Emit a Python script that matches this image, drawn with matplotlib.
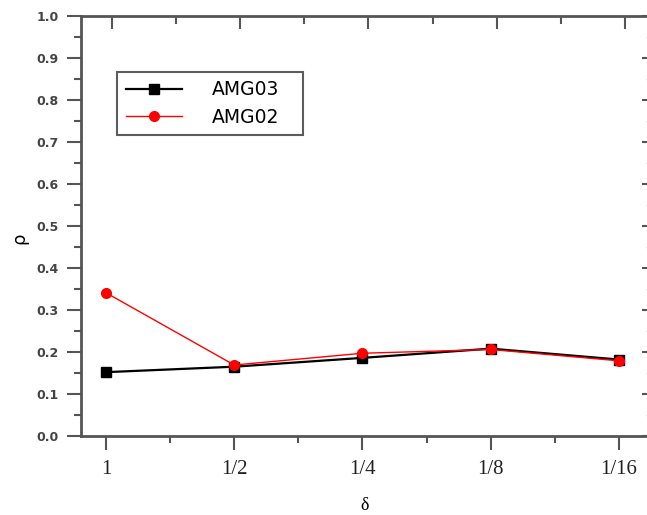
import matplotlib
matplotlib.use("Agg")
import numpy as np
from matplotlib import pyplot as plt
from matplotlib.ticker import MultipleLocator

# values
x_labels = ["1", "1/2", "1/4", "1/8", "1/16"]
amg03 = [0.152, 0.165, 0.186, 0.208, 0.182]
amg02 = [0.341, 0.169, 0.197, 0.206, 0.179]

x = np.arange(len(x_labels))
spine_col = "#555555"

fig = plt.figure(figsize=(6.47, 5.15), dpi=100)
ax = fig.add_axes([0.1252, 0.1534, 0.8780, 0.8156])

ax.plot(x, amg03, color="black", lw=1.6, marker="s", ms=7, label="AMG03", zorder=3)
ax.plot(x, amg02, color="red", lw=1.0, marker="o", ms=7, label="AMG02", zorder=4)

ax.set_xlim(-0.195, 4.235)
ax.set_ylim(0.0, 1.0)
ax.set_xticks(x)
ax.set_xticklabels(x_labels, family="Liberation Serif", fontsize=15, color="#222222")
ax.xaxis.set_minor_locator(MultipleLocator(0.5))
ax.yaxis.set_major_locator(MultipleLocator(0.1))
ax.yaxis.set_minor_locator(MultipleLocator(0.05))
ax.set_yticklabels([f"{v:.1f}" for v in ax.get_yticks()],
                   fontsize=9, fontweight="bold", color="#444444")

for s in ax.spines.values():
    s.set_color(spine_col)
    s.set_linewidth(2)
ax.spines["right"].set_visible(False)  # sits off the edge in the original

ax.tick_params(which="major", direction="out", length=10, width=1.5, color=spine_col)
ax.tick_params(which="minor", direction="out", length=5, width=1.5, color=spine_col)
ax.tick_params(axis="x", pad=7)
ax.tick_params(axis="y", pad=6)

# inward ticks on top and right, drawn by twin axes with hidden spines
# (the top ticks in the original sit a few pixels right of the bottom ones)
ax_top = ax.twiny()
lo, hi = ax.get_xlim()
ax_top.set_xlim(lo - 0.047, hi - 0.047)
ax_top.set_xticks(x)
ax_top.xaxis.set_minor_locator(MultipleLocator(0.5))
ax_top.tick_params(which="major", direction="in", length=9, width=1.5, color=spine_col,
                   labeltop=False)
ax_top.tick_params(which="minor", direction="in", length=6, width=1.5, color=spine_col)
for s in ax_top.spines.values():
    s.set_visible(False)

ax_right = ax.twinx()
ax_right.set_ylim(ax.get_ylim())
ax_right.yaxis.set_major_locator(MultipleLocator(0.1))
ax_right.yaxis.set_minor_locator(MultipleLocator(0.05))
ax_right.tick_params(which="major", direction="in", length=5, width=1.5, color=spine_col,
                     labelright=False)
ax_right.tick_params(which="minor", direction="in", length=2, width=1, color="#cccccc")
for s in ax_right.spines.values():
    s.set_visible(False)

ax.set_xlabel("δ", family="Liberation Serif", fontsize=13, labelpad=13)
ax.set_ylabel("ρ", fontsize=13)
ax.yaxis.set_label_coords(-0.0935, 0.47)

leg = ax.legend(loc="upper left", bbox_to_anchor=(0.0635, 0.7214, 0.328, 0.1453),
                mode="expand", frameon=True, fancybox=False, edgecolor="#333333",
                prop={"family": "DejaVu Sans", "size": 13.5},
                handlelength=3.0, borderpad=0.45, labelspacing=0.45,
                handletextpad=1.6, borderaxespad=0)
leg.get_frame().set_linewidth(1.5)

plt.savefig("out.png", dpi=100)
